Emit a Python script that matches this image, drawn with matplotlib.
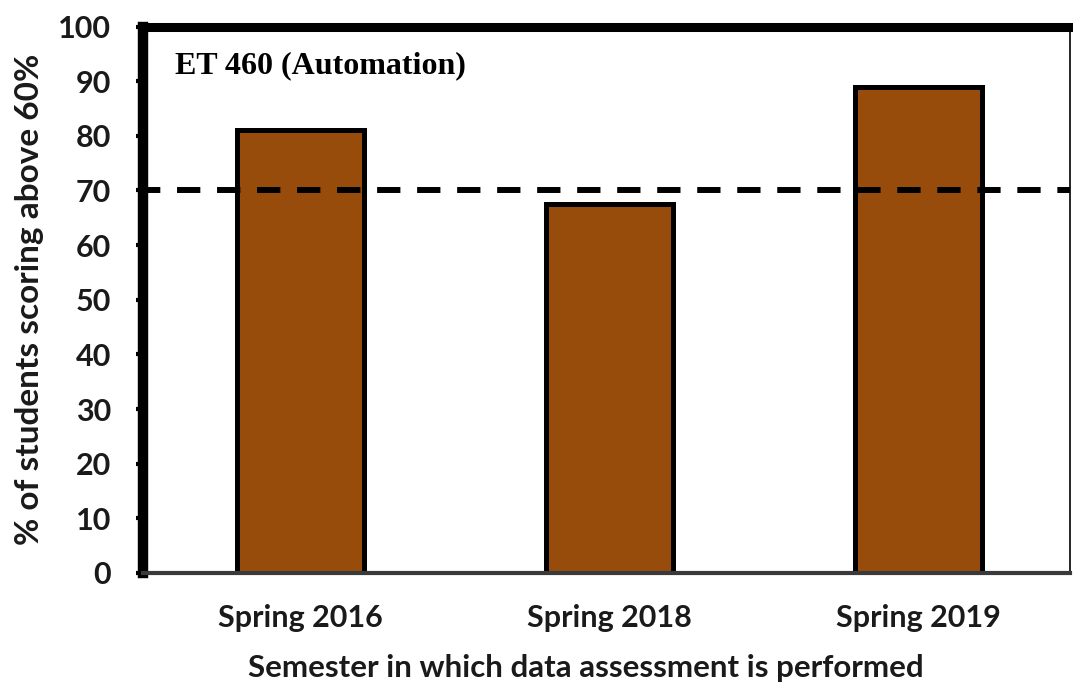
import matplotlib.pyplot as plt

semesters = ['Spring 2016', 'Spring 2018', 'Spring 2019']
pct_above_60 = [81, 67.5, 89]
target_pct = 70
yticks = [0, 10, 20, 30, 40, 50, 60, 70, 80, 90, 100]

plt.rcParams['font.family'] = ['Lato', 'DejaVu Sans']

fig = plt.figure(figsize=(10.73, 6.91), dpi=100)
ax = fig.add_axes([0.1333, 0.1708, 0.8639, 0.7908])

x = list(range(len(semesters)))
ax.bar(x, pct_above_60, width=0.41, color='#974C0B', edgecolor='black',
       linewidth=3.6, zorder=2)
ax.axhline(target_pct, color='black', linewidth=4.3,
           linestyle=(1, (3.9, 2.8)), zorder=3)

ax.set_xlim(-0.51, 2.49)
ax.set_ylim(0, 100)
ax.set_yticks(yticks)
ax.set_xticks(x)
ax.set_xticklabels(semesters, fontsize=22, fontweight='bold', color='#1a1a1a')
ax.set_yticklabels([str(v) for v in yticks], fontsize=22, fontweight='bold',
                   color='#1a1a1a')
ax.tick_params(axis='x', length=0, pad=22)
ax.tick_params(axis='y', direction='out', length=5, width=3, pad=18)

ax.spines['left'].set_linewidth(7.5)
ax.spines['top'].set_linewidth(6.5)
ax.spines['right'].set_linewidth(1.2)
ax.spines['bottom'].set_linewidth(3)
ax.spines['bottom'].set_color('#3a3a3a')

ax.set_ylabel('% of students scoring above 60%', fontsize=24,
              fontweight='bold', color='#1a1a1a', labelpad=10)
ax.set_xlabel('Semester in which data assessment is performed', fontsize=22.5,
              fontweight='bold', color='#1a1a1a')
ax.xaxis.set_label_coords(0.478, -0.148)

ax.text(0.035, 0.928, 'ET 460 (Automation)', transform=ax.transAxes,
        fontsize=23, fontweight='bold', family='Liberation Serif',
        va='center', ha='left')

fig.savefig('out.png', dpi=100)
